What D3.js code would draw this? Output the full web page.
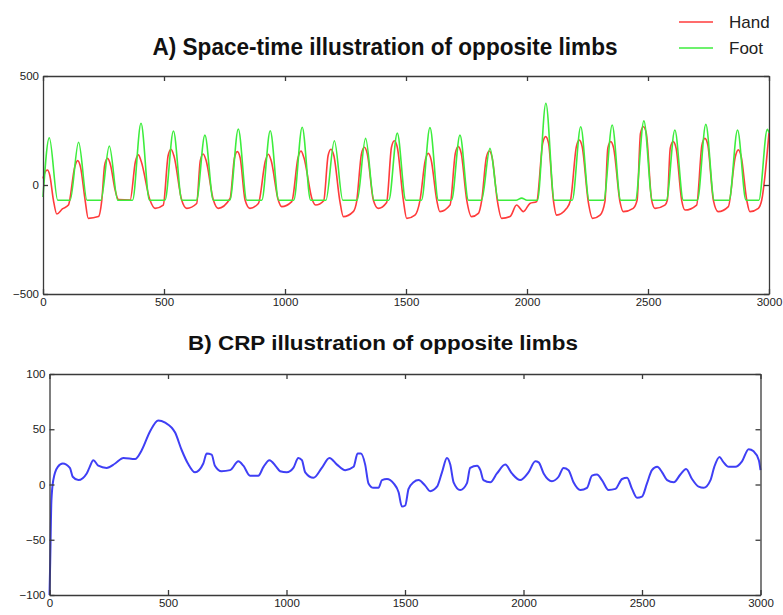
<!DOCTYPE html>
<html>
<head>
<meta charset="utf-8">
<script src="https://cdn.jsdelivr.net/npm/d3@7"></script>
<style>
  body { margin: 0; background: #fff; }
  svg { display: block; }
</style>
</head>
<body>
<div id="chart"></div>
<script>

// tick values
var timeTicks = [0, 500, 1000, 1500, 2000, 2500, 3000];
var spaceTicks = [-500, 0, 500];
var crpTicks = [-100, -50, 0, 50, 100];

// legend
var seriesNames = ["Hand", "Foot"];
var seriesColors = ["#ff3b3b", "#3ded3d"];

// A) hand trajectory [time, position]
var handPts = [
  [0,30],[10,62],[18,69],[28,45],[43,-69],[57,-133],[80,-110],[105,-92],
  [131,82],[143,112],[155,82],[174,-69],[187,-153],[229,-145],[243,-69],
  [255,92],[267,122],[279,92],[298,-23],[312,-67],[360,-69],
  [382,108],[394,138],[406,108],[442,-69],[463,-107],[497,-92],
  [517,134],[529,164],[541,134],[573,-69],[594,-107],[635,-85],
  [650,112],[662,142],[674,112],[704,-69],[724,-107],[773,-62],
  [791,123],[803,153],[815,123],[835,-69],[855,-107],[890,-85],
  [919,111],[931,141],[943,111],[972,-69],[986,-99],[1028,-76],
  [1054,126],[1066,156],[1078,126],[1113,-69],[1127,-92],[1160,-72],
  [1178,134],[1190,164],[1202,134],[1227,-76],[1241,-145],[1282,-122],[1296,-76],
  [1316,143],[1328,173],[1340,143],[1365,-69],[1385,-107],[1420,-80],
  [1440,173],[1452,203],[1464,173],[1489,-69],[1503,-153],[1537,-138],[1558,-69],
  [1580,115],[1592,145],[1604,115],[1627,-69],[1640,-122],[1682,-92],
  [1704,146],[1716,176],[1728,146],[1751,-69],[1771,-145],[1799,-130],[1813,-69],
  [1832,126],[1844,156],[1856,126],[1877,-69],[1895,-153],[1930,-145],[1957,-92],
  [1985,-122],[2012,-85],[2040,-76],
  [2065,192],[2077,222],[2089,192],[2109,-69],[2122,-138],[2164,-107],[2180,-69],
  [2204,176],[2216,206],[2228,176],[2253,-76],[2271,-153],[2302,-138],[2322,-76],
  [2334,169],[2346,199],[2358,169],[2384,-76],[2398,-122],[2439,-107],[2455,-69],
  [2469,237],[2481,267],[2493,237],[2515,-69],[2529,-107],[2570,-92],[2580,-69],
  [2592,169],[2604,199],[2616,169],[2639,-69],[2653,-115],[2701,-92],
  [2723,184],[2735,214],[2747,184],[2770,-69],[2790,-122],[2832,-99],
  [2861,131],[2873,161],[2885,131],[2908,-69],[2921,-122],[2956,-107],[2970,-69],
  [3000,240]
];

// A) foot trajectory [time, position]
var footPts = [
  [0,-55],[26,217],[61,-70],[112,-70],[147,196],[182,-70],[239,-70],[274,179],[309,-70],
  [370,-70],[405,283],[440,-70],[504,-70],[539,248],[574,-70],[634,-70],[669,229],[704,-70],
  [772,-70],[807,257],[842,-70],[904,-70],[939,249],[974,-70],[1036,-70],[1071,265],[1106,-70],
  [1169,-70],[1204,203],[1239,-70],[1298,-70],[1333,214],[1368,-70],[1429,-70],[1464,238],[1499,-70],
  [1564,-70],[1599,263],[1634,-70],[1688,-70],[1723,229],[1758,-70],[1812,-70],[1847,168],[1882,-70],
  [1955,-70],[1978,-60],[2000,-70],[2043,-70],[2078,375],[2113,-70],[2187,-70],[2222,267],[2257,-70],
  [2317,-70],[2352,275],[2387,-70],[2448,-70],[2483,294],[2518,-70],[2576,-70],[2611,252],[2646,-70],
  [2704,-70],[2739,278],[2774,-70],[2835,-70],[2870,252],[2905,-70],[2958,-70],[2993,255],[3000,240]
];

// B) continuous relative phase [time, degrees]
var crpPts = [
  [0,-100],[3,-70],[8,-15],[16,4],[35,16],[56,19],[86,15],[98,7],[122,4],[157,10],[168,15],[185,22],
  [206,17],[241,15],[277,19],[312,24],[361,23],[389,31],[424,48],[459,58],[488,56],[530,47],[558,31],
  [584,19],[614,11],[649,19],[663,28],[684,27],[698,17],[726,12],[762,13],[797,21],[818,17],[846,8],
  [881,8],[903,16],[928,22],[957,16],[973,12],[1001,11],[1029,15],[1050,24],[1065,22],[1079,11],[1114,6],
  [1149,15],[1181,24],[1213,18],[1248,13],[1283,16],[1300,28],[1314,28],[1332,18],[1346,1],[1367,-3],
  [1388,-3],[1403,4],[1424,5],[1452,1],[1473,-7],[1487,-20],[1501,-19],[1515,-4],[1536,2],[1557,4],
  [1585,-1],[1606,-6],[1635,-2],[1656,11],[1677,24],[1691,18],[1705,2],[1733,-5],[1761,1],[1775,15],
  [1804,17],[1818,13],[1831,4],[1860,2],[1888,10],[1923,18],[1951,10],[1986,4],[2021,11],[2050,21],
  [2064,20],[2085,10],[2120,3],[2148,7],[2169,15],[2190,13],[2211,2],[2240,-5],[2268,-3],[2289,8],
  [2310,9],[2331,4],[2359,-5],[2388,-4],[2416,5],[2437,6],[2458,-4],[2479,-12],[2500,-11],[2521,1],
  [2542,13],[2564,16],[2585,11],[2606,4],[2634,2],[2662,9],[2686,14],[2711,5],[2739,-2],[2760,-3],
  [2789,4],[2805,16],[2827,25],[2841,21],[2866,16],[2894,16],[2922,21],[2950,32],[2971,30],[2993,22],
  [3000,13]
];

var width = 783, height = 615;

var svg = d3.select("#chart").append("svg")
    .attr("width", width)
    .attr("height", height)
    .style("font-family", "'Liberation Sans', Arial, sans-serif");

svg.append("rect").attr("width", width).attr("height", height).attr("fill", "#fff");

// draws a matlab-like boxed panel, returns the scales
function panel(box, yDomain, yTicks) {
  var x = d3.scaleLinear().domain([0, 3000]).range([box.left, box.right]);
  var y = d3.scaleLinear().domain(yDomain).range([box.bottom, box.top]);
  var fmt = d3.format("d");

  var g = svg.append("g").attr("class", "panel");

  var axes = [
    {a: d3.axisBottom(x).tickValues(timeTicks).tickFormat(fmt), t: "translate(0," + box.bottom + ")"},
    {a: d3.axisTop(x).tickValues(timeTicks).tickFormat(""), t: "translate(0," + box.top + ")"},
    {a: d3.axisLeft(y).tickValues(yTicks).tickFormat(fmt), t: "translate(" + box.left + ",0)"},
    {a: d3.axisRight(y).tickValues(yTicks).tickFormat(""), t: "translate(" + box.right + ",0)"}
  ];
  axes.forEach(function(d) {
    var ax = g.append("g")
        .attr("transform", d.t)
        .call(d.a.tickSizeInner(-5).tickSizeOuter(0).tickPadding(4));
    ax.select(".domain").attr("stroke", "#3a3a3a").attr("stroke-width", 1.3);
    ax.selectAll(".tick line").attr("stroke", "#3a3a3a").attr("stroke-width", 1.3);
    ax.selectAll(".tick text")
        .attr("font-size", "11.5px")
        .attr("font-family", "'Liberation Sans', Arial, sans-serif")
        .attr("fill", "#222");
  });
  return {x: x, y: y, g: g};
}

function drawLine(p, pts, color, w) {
  var line = d3.line()
      .x(function(d) { return p.x(d[0]); })
      .y(function(d) { return p.y(d[1]); })
      .curve(d3.curveMonotoneX);
  p.g.insert("path", ":first-child")
      .datum(pts)
      .attr("d", line)
      .attr("fill", "none")
      .attr("stroke", color)
      .attr("stroke-width", w)
      .attr("stroke-linejoin", "round");
}

// PANEL A
var pA = panel({left: 43, right: 769, top: 76, bottom: 294}, [-500, 500], spaceTicks);
drawLine(pA, footPts, seriesColors[1], 1.6);
drawLine(pA, handPts, seriesColors[0], 1.6);

// PANEL B
var pB = panel({left: 49.5, right: 760.5, top: 374, bottom: 595}, [-100, 100], crpTicks);
drawLine(pB, crpPts, "#3f3ff5", 2);

// TITLES
svg.append("text")
    .attr("x", 385)
    .attr("y", 55)
    .attr("text-anchor", "middle")
    .attr("font-size", "23px")
    .attr("font-weight", "bold")
    .attr("font-family", "'Liberation Sans Narrow', 'Arial Narrow', 'Liberation Sans', sans-serif")
    .attr("textLength", 465)
    .attr("lengthAdjust", "spacingAndGlyphs")
    .attr("fill", "#111")
    .text("A) Space-time illustration of opposite limbs");

svg.append("text")
    .attr("x", 383)
    .attr("y", 350)
    .attr("text-anchor", "middle")
    .attr("font-size", "20px")
    .attr("font-weight", "bold")
    .attr("textLength", 390)
    .attr("lengthAdjust", "spacingAndGlyphs")
    .attr("fill", "#111")
    .text("B) CRP illustration of opposite limbs");

// LEGEND
var leg = svg.selectAll(".leg")
    .data(seriesNames)
    .enter().append("g")
    .attr("class", "leg")
    .attr("transform", function(d, i) { return "translate(679," + (22 + i * 26) + ")"; });

leg.append("line")
    .attr("x1", 0).attr("x2", 34)
    .attr("y1", 0).attr("y2", 0)
    .attr("stroke", function(d, i) { return seriesColors[i]; })
    .attr("stroke-width", 1.6);

leg.append("text")
    .attr("x", 50)
    .attr("y", 0)
    .attr("dy", "0.38em")
    .attr("font-size", "17px")
    .attr("fill", "#222")
    .text(function(d) { return d; });

</script>
</body>
</html>
